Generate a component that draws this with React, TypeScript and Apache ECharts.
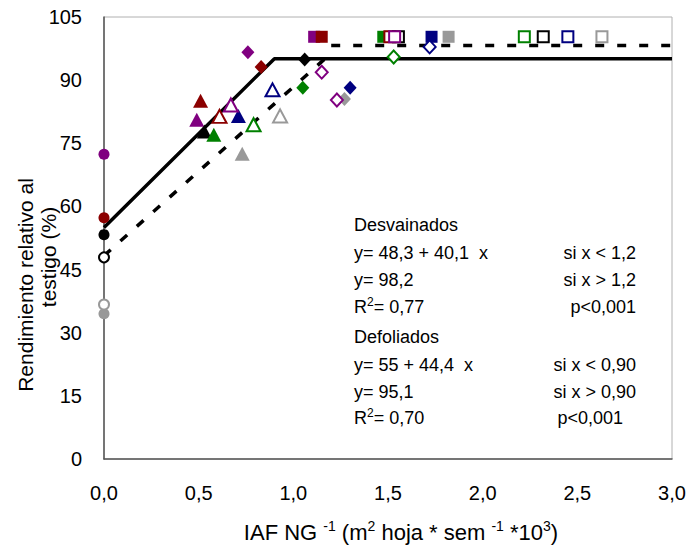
import React, { useEffect, useRef } from "react";
import * as echarts from "echarts";

// ---- data ----
const cultivars = ["morado", "rojo", "negro", "verde", "azul", "gris"];
const xTicks = [0, 0.5, 1, 1.5, 2, 2.5, 3];
const yTicks = [0, 15, 30, 45, 60, 75, 90, 105];

// [x, y, cultivarIndex]
const filledCircles = [[0, 72.4, 0], [0, 57.3, 1], [0, 53.3, 2], [0, 34.5, 5]];
const hollowCircles = [[0, 47.9, 2], [0, 36.7, 5]];
const filledTriangles = [[0.49, 80.6, 0], [0.51, 85.1, 1], [0.53, 77.8, 2], [0.58, 77.0, 3], [0.71, 81.5, 4], [0.73, 72.5, 5]];
const hollowTriangles = [[0.61, 81.4, 1], [0.67, 84.1, 0], [0.79, 79.4, 3], [0.89, 87.7, 4], [0.93, 81.5, 5]];
const filledDiamonds = [[0.76, 96.6, 0], [0.83, 93.1, 1], [1.06, 94.9, 2], [1.05, 88.2, 3], [1.30, 88.2, 4], [1.27, 85.5, 5]];
const hollowDiamonds = [[1.15, 91.9, 0], [1.23, 85.3, 0], [1.53, 95.5, 3], [1.72, 97.9, 4]];
const filledSquares = [[1.11, 100.3, 0], [1.15, 100.3, 1], [1.475, 100.3, 3], [1.73, 100.3, 4], [1.82, 100.3, 5]];
const hollowSquares = [[1.51, 100.3, 1], [1.555, 100.3, 2], [1.535, 100.3, 0], [2.22, 100.3, 3], [2.32, 100.3, 2], [2.45, 100.3, 4], [2.63, 100.3, 5]];

// regressions
const defoliadosLine = [[0, 55], [0.9, 95.1], [3.0, 95.1]];
const desvainadosSlope = [[0, 48.3], [1.2, 96.4]];
const desvainadosPlateau = [[1.2, 98.2], [3.0, 98.2]];

// ---- styles ----
const colorOf: Record<string, string> = {
  morado: "#800080",
  rojo: "#8b0000",
  negro: "#000000",
  verde: "#008000",
  azul: "#000080",
  gris: "#999999",
};
const FONT = "'Liberation Sans', Arial, sans-serif";

function scatter(data: number[][], symbol: string, size: number | number[], hollow: boolean) {
  return {
    type: "scatter",
    symbol,
    symbolSize: size,
    z: hollow ? 4 : 3,
    data: data.map(([x, y, c]) => {
      const col = colorOf[cultivars[c]];
      return {
        value: [x, y],
        itemStyle: hollow
          ? { color: "#ffffff", borderColor: col, borderWidth: 2, opacity: 1 }
          : { color: col, borderWidth: 0, opacity: 1 },
      };
    }),
  };
}

export default function App() {
  const ref = useRef<HTMLDivElement>(null);
  useEffect(() => {
    const chart = echarts.init(ref.current!, null, { renderer: "svg" });
    const annLeft = 354;
    const annRight = 636;
    const FS = 18;
    const txt = (text: string, x: number, y: number, align = "left") => ({
      type: "text",
      x,
      y,
      style: {
        text,
        fontFamily: FONT,
        fontSize: FS,
        fill: "#000",
        align,
        verticalAlign: "middle",
      },
    });
    const rtxt = (x: number, y: number, val: string) => ({
      type: "text",
      x,
      y,
      style: {
        text: "{a|R}{s|2}{a|= " + val + "}",
        fontFamily: FONT,
        fontSize: FS,
        fill: "#000",
        verticalAlign: "middle",
        rich: {
          a: { fontFamily: FONT, fontSize: FS, lineHeight: 22 },
          s: { fontFamily: FONT, fontSize: 12, lineHeight: 22, verticalAlign: "top", padding: [0, 0, 8, 0] },
        },
      },
    });
    chart.setOption({
      animation: false,
      grid: { left: 104, right: 19, top: 17, bottom: 89, show: true, borderColor: "#b0b0b0", borderWidth: 1 },
      xAxis: {
        type: "value",
        min: xTicks[0],
        max: xTicks[xTicks.length - 1],
        interval: 0.5,
        axisLine: { show: true, lineStyle: { color: "#555", width: 1.5 } },
        axisTick: { show: false },
        splitLine: { show: false },
        axisLabel: {
          margin: 24,
          fontFamily: FONT,
          fontSize: 20,
          color: "#000",
          formatter: (v: number) => v.toFixed(1).replace(".", ","),
        },
      },
      yAxis: {
        type: "value",
        min: yTicks[0],
        max: yTicks[yTicks.length - 1],
        interval: 15,
        axisLine: { show: true, lineStyle: { color: "#555", width: 1.5 } },
        axisTick: { show: false },
        splitLine: { show: false },
        axisLabel: { margin: 22, fontFamily: FONT, fontSize: 20, color: "#000" },
      },
      series: [
        {
          type: "line",
          data: defoliadosLine,
          symbol: "none",
          lineStyle: { color: "#000", width: 3.5 },
          z: 2,
        },
        {
          type: "line",
          data: desvainadosSlope,
          symbol: "none",
          lineStyle: { color: "#000", width: 3.5, type: [9, 13] },
          z: 2,
        },
        {
          type: "line",
          data: desvainadosPlateau,
          symbol: "none",
          lineStyle: { color: "#000", width: 3.5, type: [9, 13] },
          z: 2,
        },
        scatter(filledCircles, "circle", 11, false),
        scatter(filledTriangles, "triangle", [15, 14], false),
        scatter(filledDiamonds, "diamond", [13, 14], false),
        scatter(filledSquares, "rect", 12, false),
        scatter(hollowCircles, "circle", 10, true),
        scatter(hollowTriangles, "triangle", [14, 13], true),
        scatter(hollowDiamonds, "diamond", [12, 13], true),
        scatter(hollowSquares, "rect", 11, true),
      ],
      graphic: [
        {
          type: "text",
          x: 25,
          y: 285,
          rotation: Math.PI / 2,
          style: { text: "Rendimiento relativo al", fontFamily: FONT, fontSize: 21, fill: "#000", align: "center", verticalAlign: "middle" },
        },
        {
          type: "text",
          x: 48,
          y: 257,
          rotation: Math.PI / 2,
          style: { text: "testigo (%)", fontFamily: FONT, fontSize: 21, fill: "#000", align: "center", verticalAlign: "middle" },
        },
        {
          type: "text",
          x: 401,
          y: 532,
          style: {
            text: "{a|IAF NG }{s|-1}{a| (m}{s|2}{a| hoja * sem }{s|-1}{a| *10}{s|3}{a|)}",
            fontFamily: FONT,
            fontSize: 22,
            fill: "#000",
            align: "center",
            verticalAlign: "middle",
            rich: {
              a: { fontFamily: FONT, fontSize: 22, lineHeight: 26 },
              s: { fontFamily: FONT, fontSize: 14, lineHeight: 26, verticalAlign: "top", padding: [0, 0, 10, 0] },
            },
          },
        },
        txt("Desvainados", annLeft, 225),
        txt("y= 48,3 + 40,1  x", annLeft, 253),
        txt("si x < 1,2", annRight, 253, "right"),
        txt("y= 98,2", annLeft, 280),
        txt("si x > 1,2", annRight, 280, "right"),
        rtxt(annLeft, 307, "0,77"),
        txt("p<0,001", annRight, 307, "right"),
        txt("Defoliados", annLeft, 337),
        txt("y= 55 + 44,4  x", annLeft, 365),
        txt("si x < 0,90", annRight, 365, "right"),
        txt("y= 95,1", annLeft, 392),
        txt("si x > 0,90", annRight, 392, "right"),
        rtxt(annLeft, 418, "0,70"),
        txt("p<0,001", 623, 418, "right"),
      ],
    });
    return () => chart.dispose();
  }, []);
  return <div ref={ref} style={{ width: 691, height: 548, position: "absolute", left: 0, top: 0 }} />;
}
